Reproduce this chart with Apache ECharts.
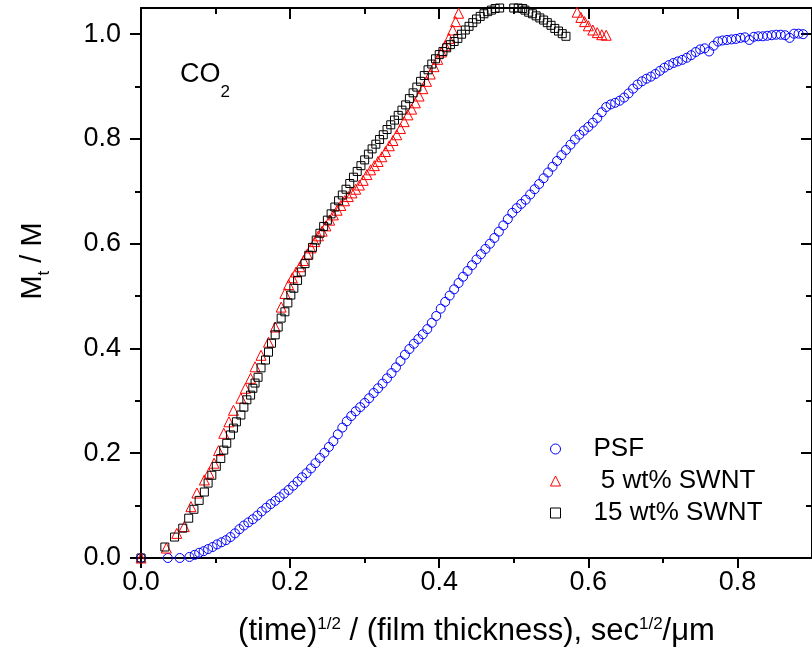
<!DOCTYPE html>
<html>
<head>
<meta charset="utf-8">
<script src="https://cdn.jsdelivr.net/npm/echarts@6/dist/echarts.min.js"></script>
<style>
html,body{margin:0;padding:0;background:#fff;}
#chart{width:812px;height:656px;}
</style>
</head>
<body>
<div id="chart"></div>
<script>
// ---- Data ----
const seriesNames = ['PSF', ' 5 wt% SWNT', '15 wt% SWNT'];

const psfX = [0.000,0.036,0.052,0.065,0.072,0.078,0.084,0.090,0.096,0.102,0.108,0.114,0.120,0.126,0.132,0.138,0.144,0.150,0.156,0.162,0.168,0.174,0.180,0.186,0.192,0.198,0.204,0.210,0.216,0.222,0.228,0.234,0.240,0.246,0.252,0.258,0.264,0.270,0.276,0.282,0.288,0.294,0.300,0.306,0.312,0.318,0.324,0.330,0.336,0.342,0.348,0.354,0.360,0.366,0.372,0.378,0.384,0.390,0.396,0.402,0.408,0.414,0.420,0.426,0.432,0.438,0.444,0.450,0.456,0.462,0.468,0.474,0.480,0.486,0.492,0.498,0.504,0.510,0.516,0.522,0.528,0.534,0.540,0.546,0.552,0.558,0.564,0.570,0.576,0.582,0.588,0.594,0.600,0.606,0.612,0.618,0.624,0.630,0.636,0.642,0.648,0.654,0.660,0.666,0.672,0.678,0.684,0.690,0.696,0.702,0.708,0.714,0.720,0.726,0.732,0.738,0.744,0.750,0.756,0.762,0.768,0.774,0.780,0.786,0.792,0.798,0.804,0.810,0.816,0.822,0.828,0.834,0.840,0.846,0.852,0.858,0.864,0.870,0.876,0.882,0.888];
const psfY = [0.000,0.000,0.000,0.002,0.006,0.010,0.013,0.017,0.021,0.026,0.030,0.034,0.040,0.047,0.055,0.062,0.068,0.074,0.081,0.089,0.096,0.103,0.109,0.116,0.123,0.130,0.138,0.146,0.154,0.162,0.171,0.181,0.191,0.201,0.212,0.223,0.236,0.249,0.261,0.271,0.280,0.288,0.296,0.305,0.315,0.324,0.333,0.343,0.353,0.364,0.376,0.388,0.399,0.409,0.418,0.427,0.437,0.449,0.462,0.476,0.489,0.501,0.513,0.525,0.537,0.548,0.559,0.570,0.580,0.590,0.600,0.611,0.623,0.635,0.647,0.659,0.668,0.676,0.684,0.694,0.704,0.714,0.725,0.736,0.747,0.758,0.769,0.779,0.789,0.799,0.808,0.816,0.823,0.831,0.840,0.851,0.861,0.866,0.869,0.873,0.879,0.887,0.896,0.904,0.910,0.915,0.919,0.924,0.930,0.936,0.941,0.945,0.948,0.951,0.955,0.960,0.966,0.971,0.973,0.967,0.978,0.986,0.988,0.989,0.990,0.991,0.993,0.994,0.989,0.995,0.996,0.996,0.997,0.998,0.999,0.999,0.998,0.993,1.001,1.001,1.000];

const swnt5X = [0.000,0.034,0.048,0.058,0.067,0.075,0.085,0.091,0.098,0.104,0.111,0.118,0.124,0.134,0.140,0.147,0.153,0.161,0.171,0.180,0.188,0.193,0.198,0.203,0.208,0.213,0.218,0.223,0.228,0.233,0.238,0.243,0.248,0.253,0.258,0.263,0.268,0.273,0.278,0.283,0.288,0.293,0.298,0.303,0.308,0.313,0.318,0.323,0.328,0.333,0.338,0.343,0.348,0.353,0.358,0.363,0.368,0.373,0.378,0.383,0.388,0.393,0.398,0.403,0.408,0.413,0.418,0.422,0.426,0.585,0.590,0.595,0.600,0.606,0.612,0.618,0.624];
const swnt5Y = [0.000,0.019,0.047,0.060,0.098,0.124,0.149,0.162,0.181,0.205,0.238,0.260,0.282,0.305,0.324,0.343,0.365,0.387,0.412,0.441,0.479,0.505,0.522,0.535,0.546,0.556,0.568,0.580,0.592,0.604,0.615,0.624,0.634,0.645,0.655,0.664,0.673,0.682,0.690,0.697,0.704,0.712,0.721,0.732,0.741,0.749,0.757,0.766,0.776,0.787,0.797,0.808,0.820,0.833,0.846,0.857,0.869,0.882,0.896,0.910,0.924,0.938,0.952,0.966,0.978,0.992,1.008,1.024,1.040,1.042,1.032,1.024,1.016,1.008,1.003,0.999,0.998];

const swnt15X = [0.000,0.032,0.045,0.056,0.064,0.071,0.078,0.085,0.090,0.095,0.101,0.107,0.111,0.115,0.120,0.124,0.128,0.134,0.138,0.142,0.147,0.150,0.153,0.157,0.161,0.167,0.171,0.175,0.180,0.184,0.188,0.193,0.197,0.201,0.205,0.210,0.215,0.220,0.225,0.230,0.235,0.240,0.245,0.250,0.255,0.260,0.265,0.270,0.275,0.280,0.285,0.290,0.295,0.300,0.305,0.310,0.315,0.320,0.325,0.330,0.335,0.340,0.345,0.350,0.355,0.360,0.365,0.370,0.375,0.380,0.385,0.390,0.395,0.400,0.405,0.410,0.415,0.420,0.425,0.430,0.435,0.440,0.445,0.450,0.455,0.460,0.465,0.470,0.475,0.481,0.500,0.506,0.512,0.515,0.520,0.525,0.530,0.535,0.540,0.545,0.550,0.555,0.560,0.565,0.570];
const swnt15Y = [0.000,0.021,0.040,0.057,0.076,0.093,0.110,0.126,0.143,0.158,0.175,0.190,0.206,0.219,0.235,0.248,0.260,0.273,0.288,0.302,0.311,0.324,0.334,0.345,0.363,0.378,0.393,0.410,0.426,0.441,0.458,0.470,0.487,0.502,0.515,0.530,0.546,0.562,0.578,0.593,0.607,0.620,0.633,0.645,0.657,0.670,0.682,0.693,0.704,0.715,0.727,0.738,0.749,0.760,0.771,0.781,0.790,0.799,0.808,0.818,0.827,0.836,0.845,0.855,0.865,0.877,0.888,0.899,0.910,0.921,0.932,0.943,0.953,0.961,0.967,0.974,0.980,0.986,0.992,1.000,1.008,1.015,1.022,1.029,1.034,1.039,1.043,1.046,1.049,1.050,1.050,1.050,1.049,1.046,1.042,1.039,1.035,1.031,1.027,1.022,1.017,1.011,1.006,1.001,0.996];

const xMajorTicks = [0, 0.2, 0.4, 0.6, 0.8];
const xMinorTicks = [0.1, 0.3, 0.5, 0.7];
const yMajorTicks = [0, 0.2, 0.4, 0.6, 0.8, 1.0];
const yMinorTicks = [0.1, 0.3, 0.5, 0.7, 0.9];

// ---- Chart ----
const zip = (xs, ys) => xs.map((x, i) => [x, ys[i]]);
const FONT = 'Liberation Sans, Arial, sans-serif';
const colors = ['#0000ff', '#ff0000', '#000000'];
const symbols = ['circle', 'triangle', 'rect'];
const sizes = [9, 10, 8];
const legendSizes = [8, 10, 7];

const X_MIN = 0, X_MAX = 0.9, Y_MIN = 0, Y_MAX = 1.05;
const lineStyle = {color: '#000', width: 2};

function xAxisDef(pos, ticks, len, inside, extra) {
  return Object.assign({
    type: 'value', position: pos, min: X_MIN, max: X_MAX, gridIndex: 0,
    axisLine: {show: false, onZero: false, lineStyle: lineStyle},
    axisTick: {show: true, inside: inside, length: len, lineStyle: lineStyle, customValues: ticks},
    axisLabel: {show: false},
    splitLine: {show: false}
  }, extra || {});
}
function yAxisDef(pos, ticks, len, inside, extra) {
  return Object.assign({
    type: 'value', position: pos, min: Y_MIN, max: Y_MAX, gridIndex: 0,
    axisLine: {show: false, onZero: false, lineStyle: lineStyle},
    axisTick: {show: true, inside: inside, length: len, lineStyle: lineStyle, customValues: ticks},
    axisLabel: {show: false},
    splitLine: {show: false}
  }, extra || {});
}

const chart = echarts.init(document.getElementById('chart'), null, {renderer: 'canvas'});
const option = {
  animation: false,
  backgroundColor: '#fff',
  textStyle: {fontFamily: FONT},
  grid: {left: 141, top: 8, right: -9, bottom: 98, containLabel: false},
  title: {
    text: '{a|CO}{b|2}',
    left: 175, top: 56,
    textStyle: {
      fontWeight: 'normal',
      rich: {
        a: {fontFamily: FONT, fontSize: 27, fontWeight: 'normal', color: '#000', verticalAlign: 'top', lineHeight: 32},
        b: {fontFamily: FONT, fontSize: 17, fontWeight: 'normal', color: '#000', verticalAlign: 'bottom', lineHeight: 40}
      }
    }
  },
  legend: {
    orient: 'vertical',
    left: 545, top: 431,
    itemWidth: 10, itemHeight: 10, itemGap: 6,
    textStyle: {fontFamily: FONT, fontSize: 26, color: '#000', padding: [0, 0, 0, 28]},
    data: seriesNames.map((n, i) => ({
      name: n, icon: symbols[i],
      itemStyle: {color: 'rgba(0,0,0,0)', borderColor: colors[i], borderWidth: 1}
    }))
  },
  xAxis: [
    xAxisDef('bottom', xMajorTicks, 10, false, {
      axisLine: {show: true, onZero: false, lineStyle: lineStyle},
      axisLabel: {show: true, customValues: xMajorTicks, fontFamily: FONT, fontSize: 27, color: '#000', margin: 11,
        formatter: v => v.toFixed(1)},
      name: '(time){sup|1/2} / (film thickness), sec{sup|1/2}/μm',
      nameLocation: 'middle', nameGap: 58,
      nameTextStyle: {fontFamily: FONT, fontSize: 31, color: '#000',
        rich: {sup: {fontFamily: FONT, fontSize: 17, color: '#000', verticalAlign: 'top', lineHeight: 22}}}
    }),
    xAxisDef('bottom', xMinorTicks, 5, false),
    xAxisDef('top', xMajorTicks, 11, true, {axisLine: {show: true, onZero: false, lineStyle: lineStyle}}),
    xAxisDef('top', xMinorTicks, 6, true)
  ],
  yAxis: [
    yAxisDef('left', yMajorTicks, 11, false, {
      axisLine: {show: true, onZero: false, lineStyle: lineStyle},
      axisLabel: {show: true, customValues: yMajorTicks, fontFamily: FONT, fontSize: 27, color: '#000', margin: 20,
        formatter: v => v.toFixed(1)},
      name: 'M{sub|t} / M',
      nameLocation: 'middle', nameRotate: 90, nameGap: 88,
      nameTextStyle: {fontFamily: FONT, fontSize: 29, color: '#000', padding: [0, 0, 0, 44],
        rich: {sub: {fontFamily: FONT, fontSize: 17, color: '#000', verticalAlign: 'bottom', lineHeight: 40}}}
    }),
    yAxisDef('left', yMinorTicks, 6, false),
    yAxisDef('right', yMajorTicks, 11, true, {axisLine: {show: true, onZero: false, lineStyle: lineStyle}}),
    yAxisDef('right', yMinorTicks, 6, true)
  ],
  series: [
    {xs: psfX, ys: psfY},
    {xs: swnt5X, ys: swnt5Y},
    {xs: swnt15X, ys: swnt15Y}
  ].map((s, i) => ({
    type: 'scatter',
    name: seriesNames[i],
    xAxisIndex: 0, yAxisIndex: 0,
    symbol: symbols[i],
    symbolSize: sizes[i],
    clip: true,
    itemStyle: {color: 'rgba(0,0,0,0)', borderColor: colors[i], borderWidth: 1, opacity: 1},
    emphasis: {disabled: true},
    data: zip(s.xs, s.ys)
  }))
};
chart.setOption(option);
</script>
</body>
</html>
